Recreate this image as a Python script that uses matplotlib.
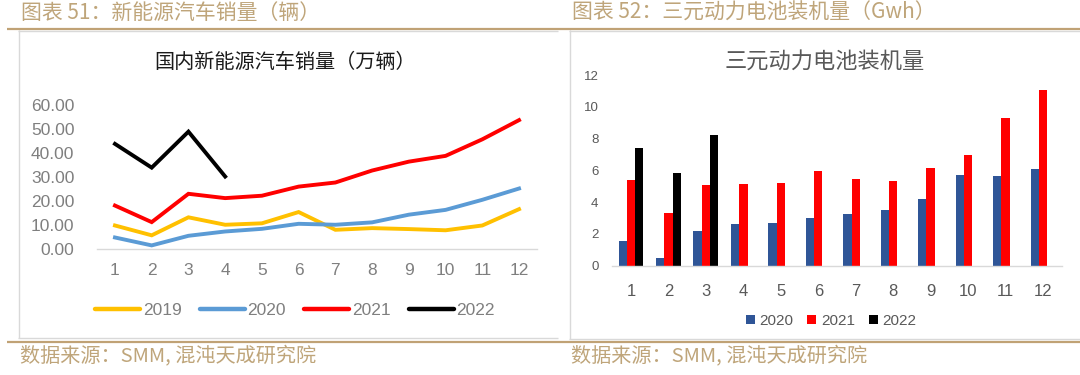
import matplotlib
matplotlib.use("Agg")
import matplotlib.pyplot as plt
from matplotlib.lines import Line2D
import numpy as np

# ---------------- data ----------------
months = list(range(1, 13))
month_labels = [str(m) for m in months]

sales_2019 = [9.8, 5.7, 13.2, 10.1, 10.7, 15.4, 8.0, 8.7, 8.3, 7.8, 9.8, 16.6]
sales_2020 = [4.8, 1.5, 5.5, 7.3, 8.4, 10.5, 10.1, 11.1, 14.3, 16.3, 20.5, 25.2]
sales_2021 = [18.1, 11.2, 23.0, 21.2, 22.2, 26.0, 27.7, 32.7, 36.4, 38.8, 45.7, 53.7]
sales_2022 = [43.8, 33.9, 48.9, 30.2]

tern_2020 = [1.55, 0.50, 2.20, 2.62, 2.66, 2.98, 3.23, 3.50, 4.22, 5.69, 5.62, 6.06]
tern_2021 = [5.39, 3.34, 5.10, 5.16, 5.22, 5.96, 5.45, 5.35, 6.15, 6.96, 9.27, 11.08]
tern_2022 = [7.41, 5.85, 8.22]

left_yticks = [0, 10, 20, 30, 40, 50, 60]
right_yticks = [0, 2, 4, 6, 8, 10, 12]

header_left = "图表 51：新能源汽车销量（辆）"
header_right = "图表 52：三元动力电池装机量（Gwh）"
footer_text = "数据来源：SMM, 混沌天成研究院"
title_left = "国内新能源汽车销量（万辆）"
title_right = "三元动力电池装机量"

# ---------------- style ----------------
W, H = 1080, 375
CJK = ['Noto Sans CJK SC', 'DejaVu Sans']
NUM = ['Liberation Sans', 'DejaVu Sans']
TAN = '#bfa57a'
LINE_TAN = '#c0a275'
BOX = '#d9d9d9'

fig = plt.figure(figsize=(W / 100, H / 100), dpi=100)
fig.patch.set_facecolor('white')


def fx(x):
    return x / W


def fy(y):
    return 1 - y / H


def hline(x0, x1, y, color, lw):
    fig.add_artist(Line2D([fx(x0), fx(x1)], [fy(y), fy(y)], transform=fig.transFigure,
                          color=color, lw=lw, solid_capstyle='butt'))


def vline(x, y0, y1, color, lw):
    fig.add_artist(Line2D([fx(x), fx(x)], [fy(y0), fy(y1)], transform=fig.transFigure,
                          color=color, lw=lw, solid_capstyle='butt'))


# frames
hline(18, 558, 30.5, BOX, 1.0)
hline(18, 558, 337.5, BOX, 1.0)
vline(18.5, 30, 338, BOX, 1.0)
hline(569, 1080, 30.5, BOX, 1.0)
hline(569, 1080, 338.5, BOX, 1.0)
vline(569.5, 30, 339, BOX, 1.0)

# header/footer rules
hline(7, 1080, 28.5, LINE_TAN, 1.6)
hline(7, 1080, 341.5, LINE_TAN, 1.6)

# header and footer texts
fig.text(fx(21), fy(13), header_left, family=CJK, fontsize=15, color=TAN, va='center', ha='left')
fig.text(fx(572), fy(13), header_right, family=CJK, fontsize=15, color=TAN, va='center', ha='left')
fig.text(fx(20), fy(357), footer_text, family=CJK, fontsize=14.5, color=TAN, va='center', ha='left')
fig.text(fx(571), fy(357), footer_text, family=CJK, fontsize=14.5, color=TAN, va='center', ha='left')

# chart titles
fig.text(fx(285), fy(62), title_left, family=CJK, fontsize=14.5, color='#1a1a1a', va='center', ha='center')
fig.text(fx(825), fy(61), title_right, family=CJK, fontsize=16, color='#595959', va='center', ha='center')

# ---------------- left line chart ----------------
axL = fig.add_axes([fx(96.6), 1 - 249 / H, (537.4 - 96.6) / W, 144 / H])
series = [(sales_2019, '#FFC000', '2019'), (sales_2020, '#5B9BD5', '2020'),
          (sales_2021, '#FF0000', '2021'), (sales_2022, '#000000', '2022')]
handles = []
for vals, col, lab in series:
    h, = axL.plot(months[:len(vals)], vals, color=col, lw=2.8, label=lab,
                  solid_joinstyle='miter', clip_on=False)
    handles.append(h)
axL.set_xlim(0.5, 12.5)
axL.set_ylim(0, 60)
axL.set_yticks(left_yticks)
axL.set_yticklabels([f"{v:.2f}" for v in left_yticks])
axL.set_xticks(months)
axL.set_xticklabels(month_labels)
for s in ['top', 'right', 'left']:
    axL.spines[s].set_visible(False)
axL.spines['bottom'].set_color(BOX)
axL.spines['bottom'].set_linewidth(1.0)
axL.tick_params(axis='both', length=0, labelsize=12.5, labelcolor='#7f7f7f')
axL.tick_params(axis='y', pad=16)
axL.tick_params(axis='x', pad=10)
for lab in axL.get_xticklabels() + axL.get_yticklabels():
    lab.set_family(NUM)
axL.patch.set_alpha(0)

legL = fig.legend(handles=handles, loc='center', bbox_to_anchor=(fx(295), fy(310)), ncol=4,
                  frameon=False, handlelength=2.6, handletextpad=0.15, columnspacing=1.05,
                  prop={'family': NUM, 'size': 12.5})
for t in legL.get_texts():
    t.set_color('#7f7f7f')
for l in legL.get_lines():
    l.set_linewidth(3.2)
    l.set_solid_capstyle('round')

# ---------------- right bar chart ----------------
axR = fig.add_axes([fx(612.3), 1 - 265.7 / H, (1061.7 - 612.3) / W, 190.7 / H])
bw = 0.222
x = np.array(months, dtype=float)
b1 = axR.bar(x - bw, tern_2020, width=bw, color='#2F5597', label='2020')
b2 = axR.bar(x, tern_2021, width=bw, color='#FF0000', label='2021')
b3 = axR.bar(x[:len(tern_2022)] + bw, tern_2022, width=bw, color='#000000', label='2022')
axR.set_xlim(0.5, 12.5)
axR.set_ylim(0, 12)
axR.set_yticks(right_yticks)
axR.set_xticks(months)
axR.set_xticklabels(month_labels)
for s in ['top', 'right', 'left']:
    axR.spines[s].set_visible(False)
axR.spines['bottom'].set_color(BOX)
axR.spines['bottom'].set_linewidth(1.0)
axR.tick_params(axis='both', length=0, labelcolor='#595959')
axR.tick_params(axis='y', labelsize=9.5, pad=10)
axR.tick_params(axis='x', labelsize=12, pad=13)
for lab in axR.get_xticklabels() + axR.get_yticklabels():
    lab.set_family(NUM)
axR.patch.set_alpha(0)

legR = fig.legend(handles=[b1, b2, b3], loc='center', bbox_to_anchor=(fx(831), fy(321)), ncol=3,
                  frameon=False, handlelength=0.6, handleheight=0.6, handletextpad=0.3,
                  columnspacing=0.9, prop={'family': NUM, 'size': 11})
for t in legR.get_texts():
    t.set_color('#595959')

fig.savefig('out.png', dpi=100, facecolor='white')
